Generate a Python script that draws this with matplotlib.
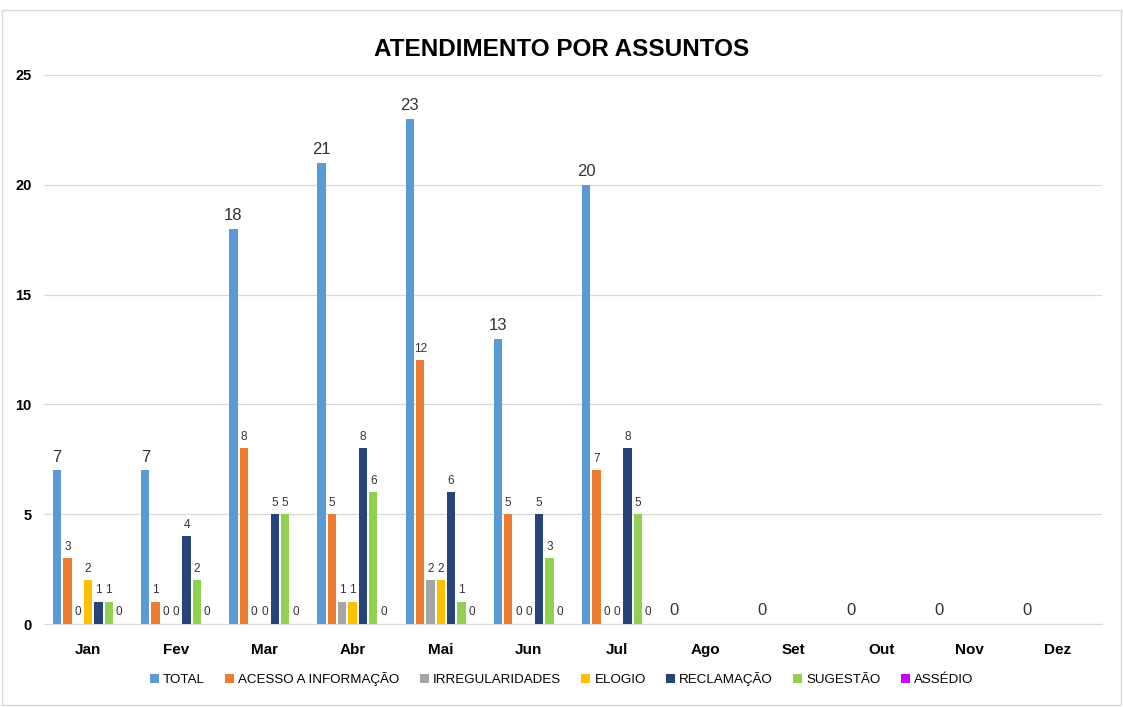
import matplotlib
matplotlib.use("Agg")
import matplotlib.pyplot as plt
import numpy as np

plt.rcParams['font.family'] = ['Liberation Sans', 'DejaVu Sans']

# data
months = ["Jan", "Fev", "Mar", "Abr", "Mai", "Jun", "Jul", "Ago", "Set", "Out", "Nov", "Dez"]
series_names = ["TOTAL", "ACESSO A INFORMAÇÃO", "IRREGULARIDADES", "ELOGIO",
                "RECLAMAÇÃO", "SUGESTÃO", "ASSÉDIO"]
total = [7, 7, 18, 21, 23, 13, 20, 0, 0, 0, 0, 0]
acesso = [3, 1, 8, 5, 12, 5, 7]
irregularidades = [0, 0, 0, 1, 2, 0, 0]
elogio = [2, 0, 0, 1, 2, 0, 0]
reclamacao = [1, 4, 5, 8, 6, 5, 8]
sugestao = [1, 2, 5, 6, 1, 3, 5]
assedio = [0, 0, 0, 0, 0, 0, 0]
colors = ["#5B9BD5", "#ED7D31", "#A5A5A5", "#FFC000", "#264478", "#92D050", "#CC00FF"]

all_series = [total, acesso, irregularidades, elogio, reclamacao, sugestao, assedio]

fig = plt.figure(figsize=(11.23, 7.07), dpi=100)
ax = fig.add_axes([44 / 1123, 1 - 624 / 707, 1058 / 1123, 549 / 707])

x = np.arange(len(months))
step = 0.117
width = 0.095
for i, (vals, name, col) in enumerate(zip(all_series, series_names, colors)):
    pos = x[:len(vals)] + (i - 3) * step
    bars = ax.bar(pos, vals, width, color=col, label=name, zorder=3)
    if i == 0:
        ax.bar_label(bars, padding=4, fontsize=12, color="#333333")
    else:
        ax.bar_label(bars, padding=4, fontsize=8.5, color="#333333")

ax.set_xlim(-0.5, 11.5)
ax.set_ylim(0, 25)
ax.set_yticks([0, 5, 10, 15, 20, 25])
ax.set_xticks(x)
ax.set_xticklabels(months, fontweight="bold", fontsize=11)
for lab in ax.get_yticklabels():
    lab.set_fontweight("bold")
    lab.set_fontsize(10.5)
ax.tick_params(axis="x", length=0, pad=14)
ax.tick_params(axis="y", length=0, pad=9)
ax.grid(axis="y", color="#D9D9D9", linewidth=0.9, zorder=0)
for s in ["top", "right", "left"]:
    ax.spines[s].set_visible(False)
ax.spines["bottom"].set_color("#D9D9D9")

fig.text(0.5, 1 - 50 / 707, "ATENDIMENTO POR ASSUNTOS", ha="center", va="center",
         fontsize=17.5, fontweight="bold")

fig.legend(loc="center", bbox_to_anchor=(0.5, 1 - 679 / 707), ncol=7, frameon=False,
           fontsize=9.6, handlelength=0.7, handleheight=0.7, handletextpad=0.3,
           columnspacing=1.5)

# chart frame
fig.patches.append(plt.Rectangle((2 / 1123, 2 / 707), 1 - 4 / 1123, 1 - 12 / 707,
                                 transform=fig.transFigure, fill=False,
                                 edgecolor="#D9D9D9", linewidth=1))

fig.savefig("out.png", dpi=100)
